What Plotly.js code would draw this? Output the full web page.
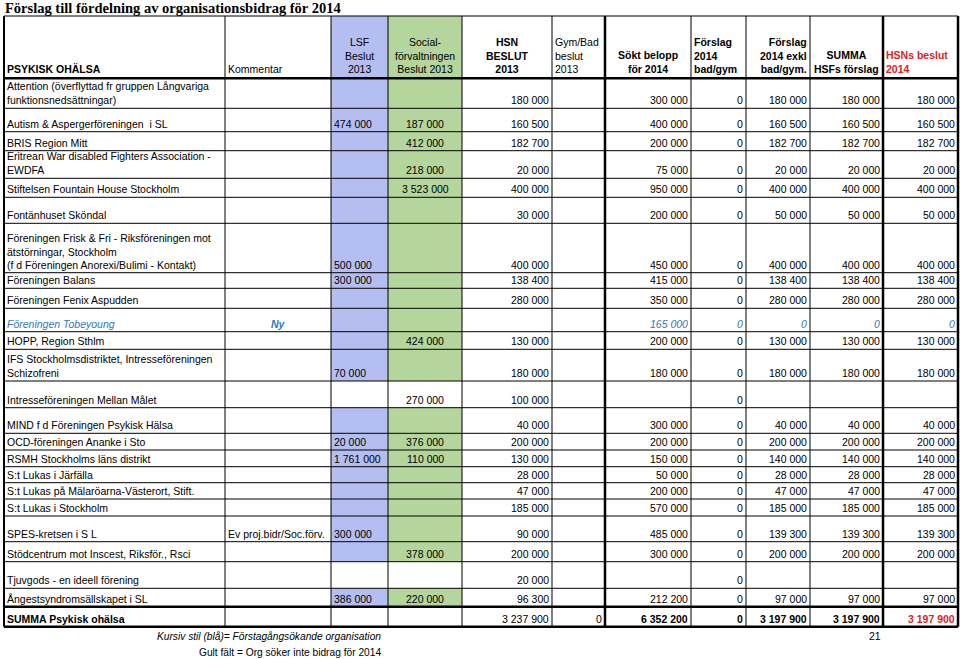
<!DOCTYPE html>
<html><head><meta charset="utf-8">
<script src="https://cdn.plot.ly/plotly-3.0.1.min.js"></script>
<style>html,body{margin:0;padding:0;background:#fff;} #chart{width:960px;height:659px;}</style>
</head><body><div id="chart"></div>
<script>
// ---------------- DATA ----------------
const chartTitle = "Förslag till fördelning av organisationsbidrag för 2014";
const headerLabels = ["PSYKISK OHÄLSA", "Kommentar", "LSF<br>Beslut<br>2013", "Social-<br>förvaltningen<br>Beslut 2013",
  "HSN<br>BESLUT<br>2013", "Gym/Bad<br>beslut<br>2013", "Sökt belopp<br>för 2014", "Förslag<br>2014<br>bad/gym",
  "Förslag<br>2014 exkl<br>bad/gym.", "SUMMA<br>HSFs förslag", "HSNs beslut<br>2014"];
const organisations = [
  "Attention (överflyttad fr gruppen Långvariga<br>funktionsnedsättningar)",
  "Autism & Aspergerföreningen  i SL",
  "BRIS Region Mitt",
  "Eritrean War disabled Fighters Association -<br>EWDFA",
  "Stiftelsen Fountain House Stockholm",
  "Fontänhuset Sköndal",
  "Föreningen Frisk & Fri - Riksföreningen mot<br>ätstörningar, Stockholm<br>(f d Föreningen Anorexi/Bulimi - Kontakt)",
  "Föreningen Balans",
  "Föreningen Fenix Aspudden",
  "Föreningen Tobeyoung",
  "HOPP, Region Sthlm",
  "IFS Stockholmsdistriktet, Intresseföreningen<br>Schizofreni",
  "Intresseföreningen Mellan Målet",
  "MIND f d Föreningen Psykisk Hälsa",
  "OCD-föreningen Ananke i Sto",
  "RSMH Stockholms läns distrikt",
  "S:t Lukas i Järfälla",
  "S:t Lukas på Mälaröarna-Västerort, Stift.",
  "S:t Lukas i Stockholm",
  "SPES-kretsen i S L",
  "Stödcentrum mot Inscest, Riksför., Rsci",
  "Tjuvgods - en ideell förening",
  "Ångestsyndromsällskapet i SL",
  "SUMMA Psykisk ohälsa"
];
const comments = ["", "", "", "", "", "", "", "", "", "Ny", "", "", "", "", "", "", "", "", "", "Ev proj.bidr/Soc.förv.", "", "", "", ""];
const lsfBeslut2013 = [null, 474000, null, null, null, null, 500000, 300000, null, null, null, 70000, null, null, 20000, 1761000, null, null, null, 300000, null, null, 386000, null];
const socBeslut2013 = [null, 187000, 412000, 218000, 3523000, null, null, null, null, null, 424000, null, 270000, null, 376000, 110000, null, null, null, null, 378000, null, 220000, null];
const hsnBeslut2013 = [180000, 160500, 182700, 20000, 400000, 30000, 400000, 138400, 280000, null, 130000, 180000, 100000, 40000, 200000, 130000, 28000, 47000, 185000, 90000, 200000, 20000, 96300, 3237900];
const gymBadBeslut2013 = [null, null, null, null, null, null, null, null, null, null, null, null, null, null, null, null, null, null, null, null, null, null, null, 0];
const soktBelopp2014 = [300000, 400000, 200000, 75000, 950000, 200000, 450000, 415000, 350000, 165000, 200000, 180000, null, 300000, 200000, 150000, 50000, 200000, 570000, 485000, 300000, null, 212200, 6352200];
const forslagBadGym2014 = [0, 0, 0, 0, 0, 0, 0, 0, 0, 0, 0, 0, 0, 0, 0, 0, 0, 0, 0, 0, 0, 0, 0, 0];
const forslagExklBadGym2014 = [180000, 160500, 182700, 20000, 400000, 50000, 400000, 138400, 280000, 0, 130000, 180000, null, 40000, 200000, 140000, 28000, 47000, 185000, 139300, 200000, null, 97000, 3197900];
const summaHsfForslag = [180000, 160500, 182700, 20000, 400000, 50000, 400000, 138400, 280000, 0, 130000, 180000, null, 40000, 200000, 140000, 28000, 47000, 185000, 139300, 200000, null, 97000, 3197900];
const hsnBeslut2014 = [180000, 160500, 182700, 20000, 400000, 50000, 400000, 138400, 280000, 0, 130000, 180000, null, 40000, 200000, 140000, 28000, 47000, 185000, 139300, 200000, null, 97000, 3197900];
const footnotes = ["Kursiv stil (blå)= Förstagångsökande organisation", "Gult fält = Org söker inte bidrag för 2014"];
const pageNumber = "21";

// ---------------- LAYOUT / STYLE ----------------
const colEdges = [4, 225, 331, 388, 462, 552, 605, 691, 746, 810, 883, 958];
const headerTop = 16;
const rowEdges = [78.3, 108.3, 131.7, 150.7, 178.3, 197.3, 223.3, 272.7, 288.3, 308.3, 331.7, 349.3, 381, 407.7, 433.3, 450, 466.7, 482.7, 499, 516, 541.7, 561.7, 588.3, 606.7, 626.7];
const headerAlign = ["left", "left", "center", "center", "center", "left", "center", "left", "right", "center", "left"];
const headerBold = [true, false, false, false, true, false, true, true, true, true, true];
const cellAlign = ["left", "left", "left", "center", "right", "right", "right", "right", "right", "right", "right"];
const firstTimeRow = 9;
const totalRow = 23;
const unshadedRows = [12, 21, 23];
const shadeCols = {2: "#b5bef0", 3: "#b4d59c"};
const thickV = {4: 2, 605: 2.5, 883: 2.5, 958: 2.5};
const thickH = {78.3: 2.5, 606.7: 2.5, 626.7: 2.5};
const fontFam = "Liberation Sans, Arial, sans-serif";
const FS = 10.5;
const blueItalic = "#2f78bd";
const red = "#e3211c";

function fmt(v) {
  if (v === null || v === undefined) return "";
  return String(v).replace(/\B(?=(\d{3})+(?!\d))/g, " ");
}

const columns = [organisations, comments, lsfBeslut2013, socBeslut2013, hsnBeslut2013, gymBadBeslut2013,
  soktBelopp2014, forslagBadGym2014, forslagExklBadGym2014, summaHsfForslag, hsnBeslut2014];

const shapes = [];
const annotations = [];

// fills
for (const c in shadeCols) {
  const ci = +c;
  shapes.push({type: "rect", xref: "x", yref: "y", x0: colEdges[ci], x1: colEdges[ci + 1], y0: headerTop, y1: rowEdges[0], fillcolor: shadeCols[c], line: {width: 0}, layer: "below"});
  for (let r = 0; r < organisations.length; r++) {
    if (unshadedRows.includes(r)) continue;
    shapes.push({type: "rect", xref: "x", yref: "y", x0: colEdges[ci], x1: colEdges[ci + 1], y0: rowEdges[r], y1: rowEdges[r + 1], fillcolor: shadeCols[c], line: {width: 0}, layer: "below"});
  }
}
// grid lines
const yBottom = rowEdges[rowEdges.length - 1];
[headerTop].concat(rowEdges).forEach(y => {
  shapes.push({type: "line", xref: "x", yref: "y", x0: colEdges[0], x1: colEdges[colEdges.length - 1], y0: y, y1: y, line: {color: "#000", width: thickH[y] || 1}});
});
colEdges.forEach(x => {
  shapes.push({type: "line", xref: "x", yref: "y", x0: x, x1: x, y0: headerTop, y1: yBottom, line: {color: "#000", width: thickV[x] || 1}});
});

function cellX(ci, align) {
  if (align === "left") return colEdges[ci] + 2;
  if (align === "right") return colEdges[ci + 1] - 2;
  return (colEdges[ci] + colEdges[ci + 1]) / 2;
}

// header
headerLabels.forEach((t, ci) => {
  const isRed = ci === 10;
  annotations.push({xref: "x", yref: "y", x: cellX(ci, headerAlign[ci]), y: rowEdges[0] - 2, xanchor: headerAlign[ci], yanchor: "bottom",
    align: headerAlign[ci], showarrow: false, borderpad: 0, text: headerBold[ci] ? "<b>" + t + "</b>" : t,
    font: {family: fontFam, size: FS, color: isRed ? red : "#000"}});
});

// body
for (let r = 0; r < organisations.length; r++) {
  for (let ci = 0; ci < columns.length; ci++) {
    let raw = columns[ci][r];
    let text = (ci <= 1) ? raw : fmt(raw);
    if (!text) continue;
    let align = cellAlign[ci];
    let color = "#000";
    if (r === firstTimeRow) {
      text = "<i>" + text + "</i>";
      color = blueItalic;
      if (ci === 1) { align = "center"; text = "<b>" + text + "</b>"; }
    }
    if (r === totalRow && (ci === 0 || ci >= 6)) text = "<b>" + text + "</b>";
    if (r === totalRow && ci === 10) color = red;
    annotations.push({xref: "x", yref: "y", x: cellX(ci, align), y: rowEdges[r + 1] - 1, xanchor: align, yanchor: "bottom",
      align: align, showarrow: false, borderpad: 0, text: text, font: {family: fontFam, size: FS, color: color}});
  }
}

// footnotes
annotations.push({xref: "x", yref: "y", x: 383, y: 636, xanchor: "right", yanchor: "middle", showarrow: false,
  text: "<i>" + footnotes[0] + "</i>", font: {family: fontFam, size: 10.2, color: "#000"}});
annotations.push({xref: "x", yref: "y", x: 383, y: 652.5, xanchor: "right", yanchor: "middle", showarrow: false,
  text: footnotes[1], font: {family: fontFam, size: 10.2, color: "#000"}});
annotations.push({xref: "x", yref: "y", x: 875, y: 636, xanchor: "center", yanchor: "middle", showarrow: false,
  text: pageNumber, font: {family: fontFam, size: FS, color: "#000"}});

const layout = {
  width: 960, height: 659,
  margin: {l: 0, r: 0, t: 0, b: 0},
  paper_bgcolor: "#fff", plot_bgcolor: "#fff",
  title: {text: "<b>" + chartTitle + "</b>", x: 5 / 960, xanchor: "left", xref: "paper", y: 1 - 8 / 659, yanchor: "middle", yref: "container",
    font: {family: "Liberation Serif, Times New Roman, serif", size: 14.5, color: "#000"}},
  xaxis: {range: [0, 960], visible: false, fixedrange: true},
  yaxis: {range: [659, 0], visible: false, fixedrange: true},
  shapes: shapes,
  annotations: annotations,
  showlegend: false
};
Plotly.newPlot("chart", [], layout, {displayModeBar: false, staticPlot: true});
</script></body></html>
